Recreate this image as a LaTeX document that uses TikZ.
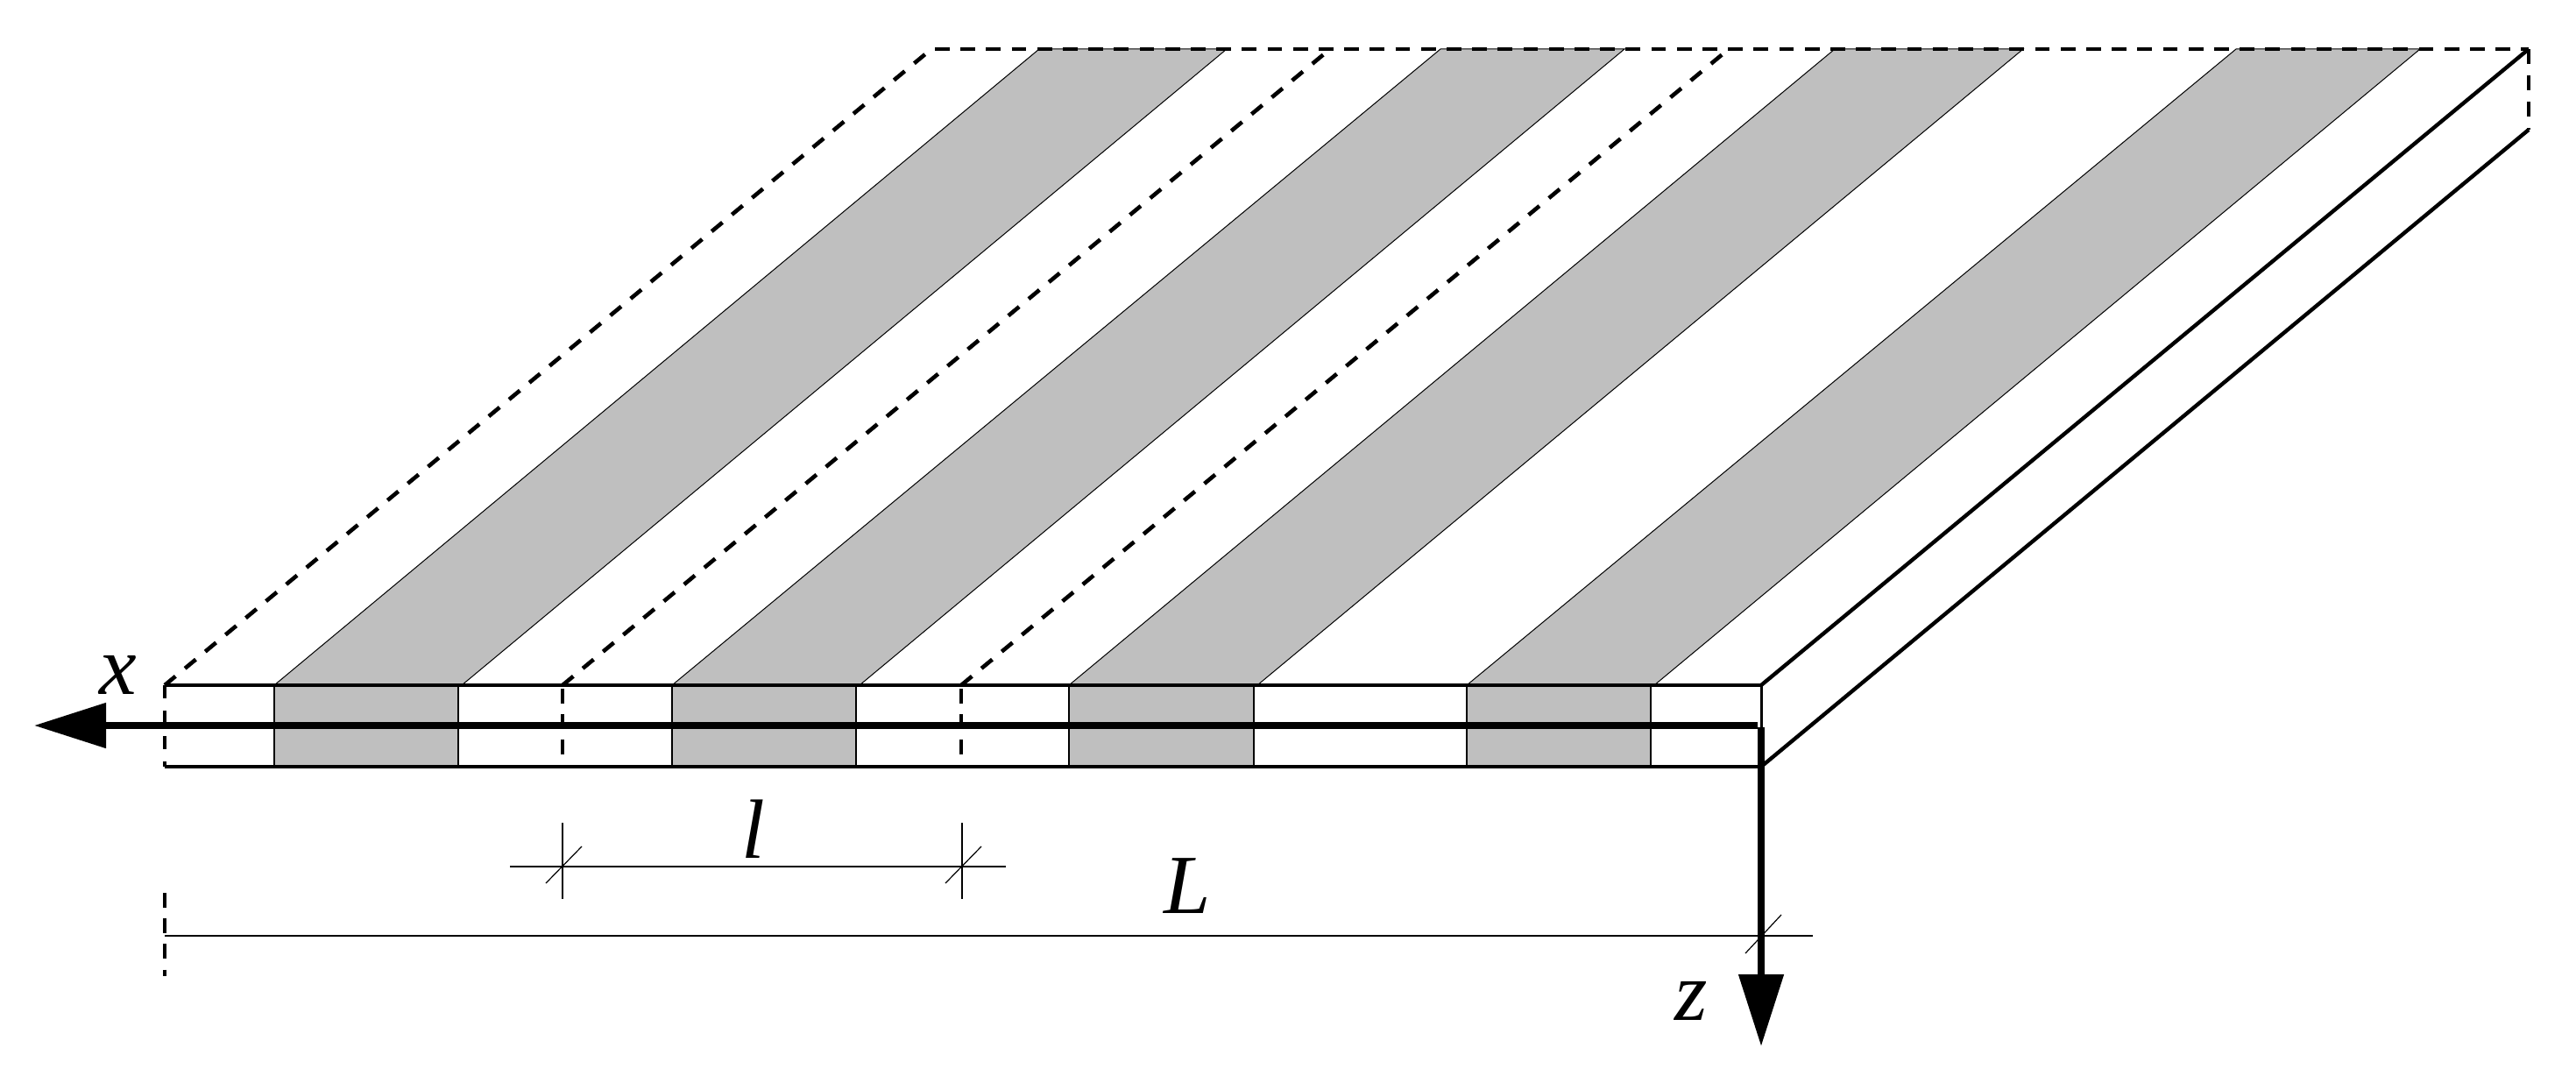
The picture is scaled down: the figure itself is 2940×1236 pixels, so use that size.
\documentclass[tikz,border=0pt]{standalone}
\usepackage{fontspec}
\setmainfont{Liberation Serif}
\usetikzlibrary{arrows.meta}
\definecolor{bandgray}{gray}{0.75}
\tikzset{
  px/.style={x=0.5pt,y=-0.5pt},
  band/.style={fill=bandgray,draw=black,line width=0.5pt},
  edgeline/.style={line width=2.2pt,line cap=butt},
  slantdash/.style={line width=2.3pt,dash pattern=on 8pt off 7.02pt},
  topdash/.style={line width=2.35pt,dash pattern=on 8.4pt off 6.2pt},
  sidedash/.style={line width=2.3pt,dash pattern=on 8.4pt off 6.6pt},
  leftdash/.style={line width=2pt,dash pattern=on 7.5pt off 7pt},
  frontdash/.style={line width=2pt,dash pattern=on 8.3pt off 6.3pt},
  divider/.style={line width=1pt},
  dimline/.style={line width=0.6pt},
  axis/.style={line width=4pt,-{Triangle[length=41pt,width=25pt]}},
  lab/.style={font=\fontsize{48}{48}\selectfont\itshape,inner sep=0pt}
}
\begin{document}
\begin{tikzpicture}[px]
\useasboundingbox (0,0) rectangle (2940,1236);
\fill[white] (0,0) rectangle (2940,1236);
% corners
\coordinate (fl) at (188,782);
\coordinate (fr) at (2010,782);
\coordinate (bl) at (188,875);
\coordinate (br) at (2010,875);
\coordinate (tl) at (1063,56);
\coordinate (tr) at (2886,56);
\coordinate (trb) at (2886,148);
% bands: top face
\draw[band] (313,782) -- (1186,56) -- (1400,56) -- (527,782) -- cycle;
\draw[band] (767,782) -- (1644,56) -- (1854,56) -- (981,782) -- cycle;
\draw[band] (1220,782) -- (2094,56) -- (2309,56) -- (1435,782) -- cycle;
\draw[band] (1674,782) -- (2552,56) -- (2762,56) -- (1888,782) -- cycle;
% bands: front face
\foreach \a/\b in {313/523,767/977,1220/1431,1674/1884}{
  \fill[bandgray] (\a,782) rectangle (\b,875);
  \draw[divider] (\a,782) -- (\a,875);
  \draw[divider] (\b,782) -- (\b,875);
}
% dashed lines
\draw[slantdash] (fl) -- (tl);
\draw[slantdash] (642,782) -- (1518,56);
\draw[slantdash] (1097,782) -- (1973,56);
\draw[topdash] (1067,56) -- (tr);
\draw[sidedash] (tr) -- (trb);
\draw[leftdash] (fl) -- (bl);
\draw[frontdash] (642,786) -- (642,862);
\draw[frontdash] (1097,786) -- (1097,862);
% outlines
\draw[edgeline] (fl) -- (fr);
\draw[edgeline] (bl) -- (br);
\draw[edgeline] (fr) -- (tr);
\draw[edgeline] (br) -- (trb);
\draw[divider,line width=1.5pt] (fr) -- (2010,830);
% dimensions
\coordinate (la) at (582,989);
\coordinate (lb) at (1148,989);
\draw[dimline] (la) -- (lb);
\draw[dimline] (642,939) -- (642,1026);
\draw[dimline] (1098,939) -- (1098,1026);
\draw[dimline] (623,1008) -- (664,966);
\draw[dimline] (1079,1008) -- (1120,966);
\coordinate (La) at (188,1068);
\coordinate (Lb) at (2069,1068);
\draw[dimline] (La) -- (Lb);
\draw[frontdash] (188,1019) -- (188,1114);
\draw[dimline] (1992,1088) -- (2033,1044);
% axes
\coordinate (o1) at (2006,828);
\coordinate (xe) at (39,828);
\coordinate (o2) at (2010,830);
\coordinate (ze) at (2010,1194);
\draw[axis] (o1) -- (xe);
\draw[axis] (o2) -- (ze);
% labels
\node[lab] (xl) at (135,770) {x};
\node[lab] (zl) at (1930,1142) {z};
\node[lab] (ll) at (860,946) {l};
\node[lab] (Ll) at (1355,1011) {L};
\end{tikzpicture}
\end{document}
